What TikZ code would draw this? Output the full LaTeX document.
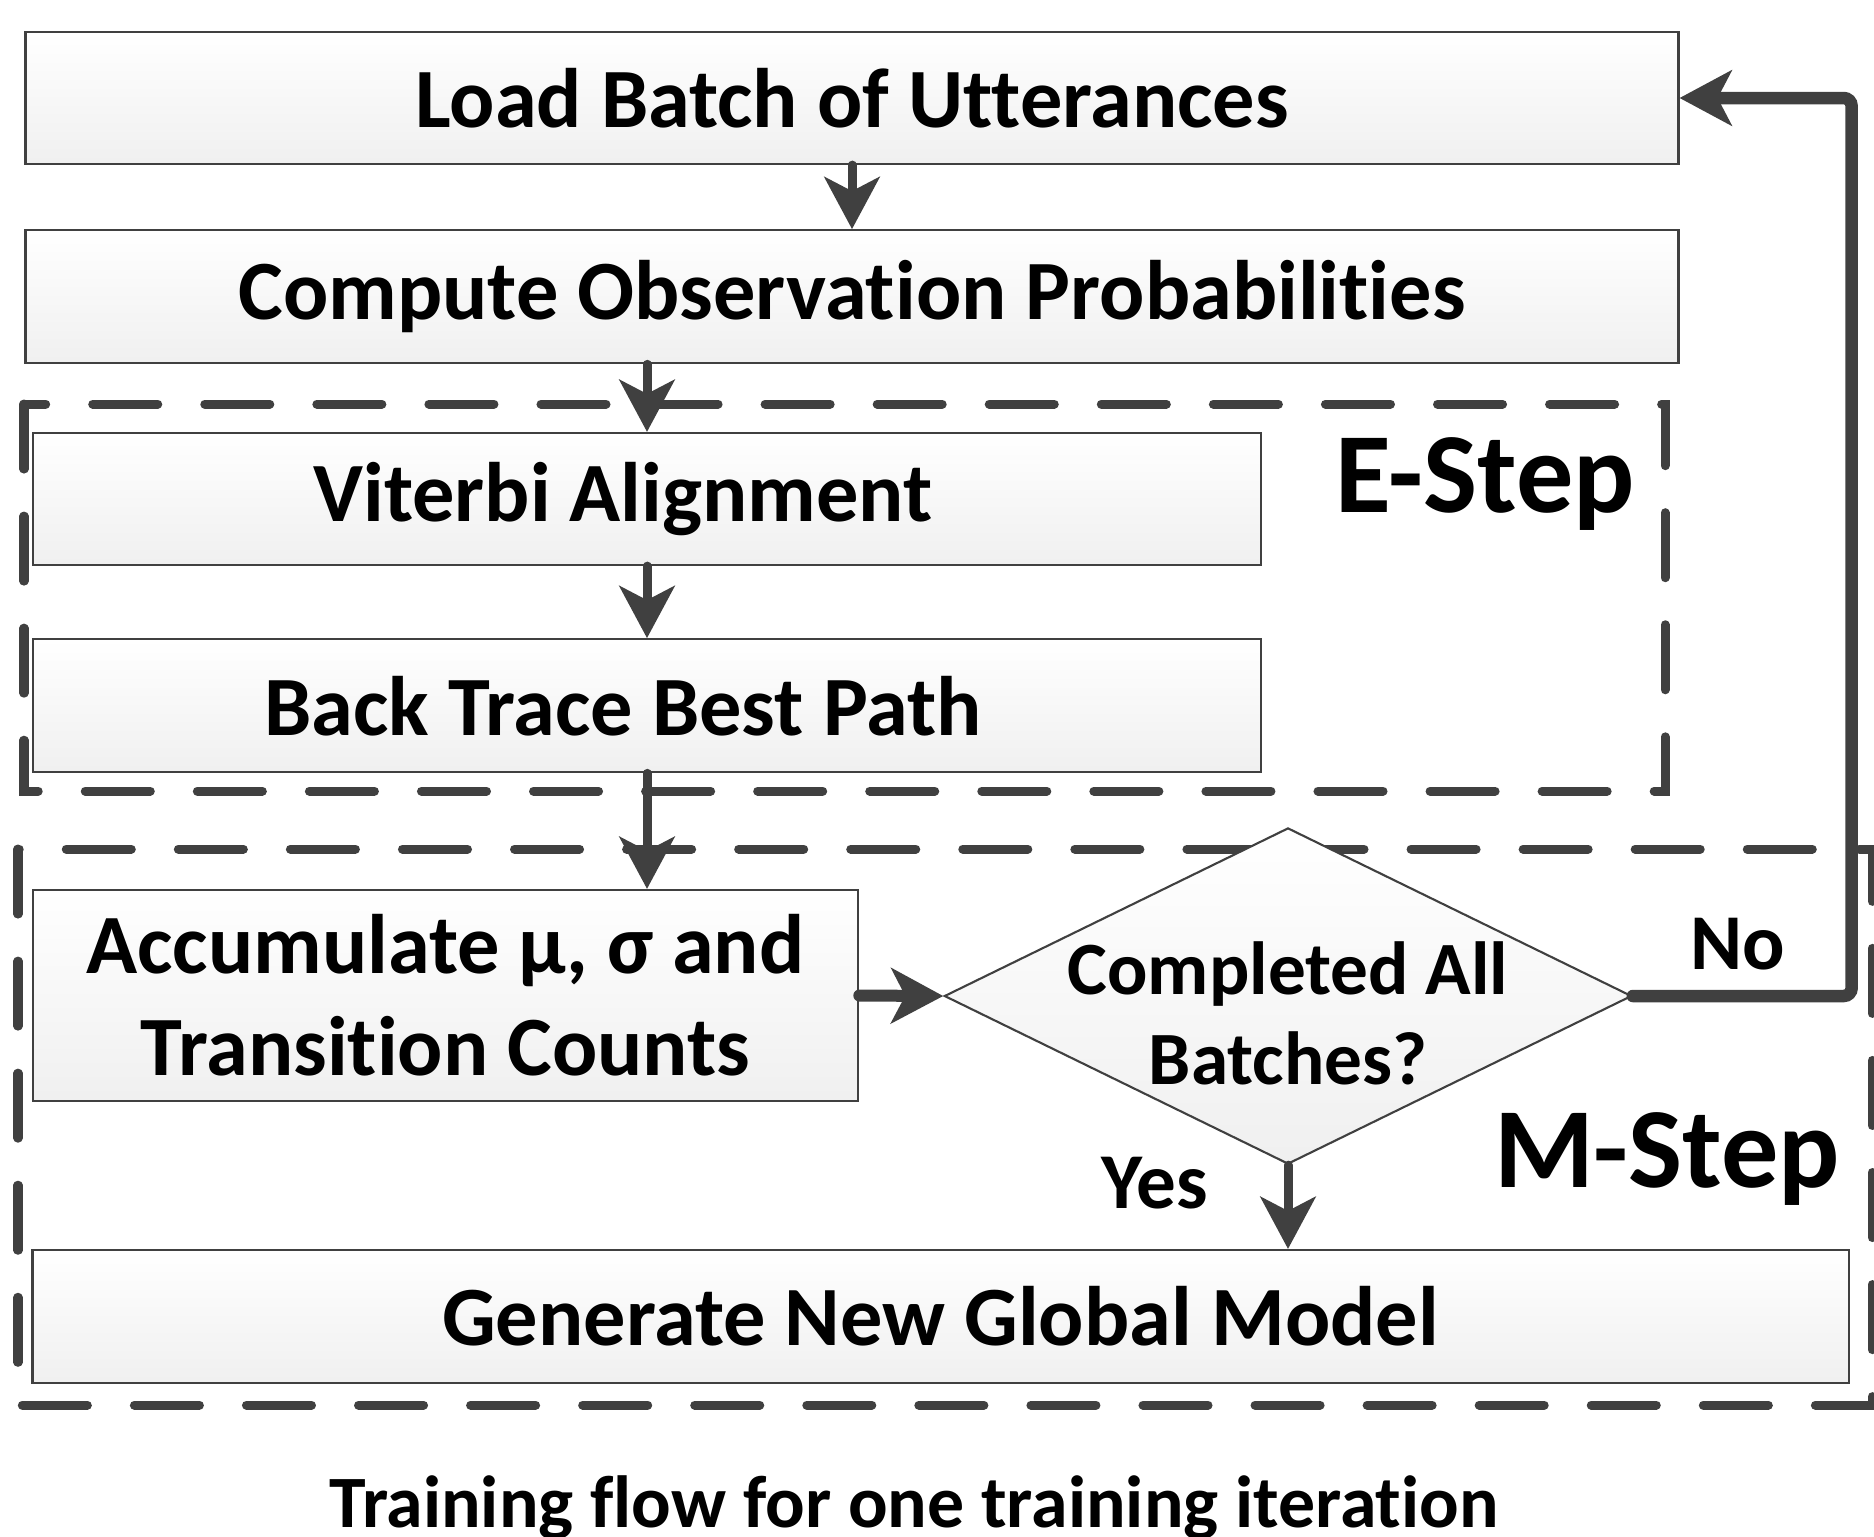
\documentclass[tikz,border=0pt]{standalone}
\usepackage{fontspec}
\setmainfont{Carlito}[Ligatures=NoCommon]
\usetikzlibrary{shapes.geometric, arrows.meta, positioning}
\definecolor{linegray}{HTML}{404040}
\tikzstyle{process} = [rectangle, draw=linegray, line width=0.6pt, top color=white, bottom color=black!6, text centered, inner sep=0pt, font=\fontsize{24}{29}\selectfont\bfseries]
\tikzstyle{decision} = [diamond, draw=linegray, line width=0.6pt, top color=white, bottom color=black!6, inner sep=0pt, minimum width=6.87cm, minimum height=3.36cm]
\tikzstyle{arrow} = [draw=linegray, line width=0.09cm, line cap=round, -{Stealth[length=0.52cm, width=0.55cm, inset=0.14cm]}]
\tikzstyle{group} = [draw=linegray, line width=0.09cm, line cap=round, dash pattern=on 0.65cm off 0.47cm]
\tikzstyle{steplabel} = [font=\fontsize{32.5}{38}\selectfont\bfseries]
\tikzstyle{answer} = [font=\fontsize{22.5}{27}\selectfont\bfseries]

\begin{document}
\begin{tikzpicture}[x=0.01cm, y=-0.01cm]
\useasboundingbox (0,0) rectangle (1874,1536);

% E-step and M-step frames
\draw [group] (24,404) rectangle (1665,791);
\draw [group] (18,849) rectangle (1872,1405);

\node (load) [process, minimum width=16.52cm, minimum height=1.32cm] at (852,98) {Load Batch of Utterances};
\node (compute) [process, minimum width=16.52cm, minimum height=1.33cm, below=0.64cm of load] {Compute Observation Probabilities};
\node (viterbi) [process, minimum width=12.28cm, minimum height=1.32cm] at (647,499) {Viterbi Alignment\hspace*{0.48cm}};
\node (backtrace) [process, minimum width=12.28cm, minimum height=1.33cm, below=0.72cm of viterbi] {Back Trace Best Path\hspace*{0.48cm}};
\node (accum) [process, minimum width=8.25cm, minimum height=2.11cm, align=center, font=\fontsize{24}{29}\selectfont\bfseries] at (445.5,995.5) {Accumulate μ, σ and\\Transition Counts};
\node (check) [decision, label={[align=center, yshift=-0.17cm, font=\fontsize{21.4}{25.6}\selectfont\bfseries]center:Completed All\\Batches?}] at (1288,996) {};
\node (generate) [process, minimum width=18.15cm, minimum height=1.33cm] at (940.5,1316.5) {Generate New Global Model};

\node (estep) [steplabel] at (1485,484) {E-Step};
\node (mstep) [steplabel] at (1667,1159) {M-Step};
\node (no) [answer] at (1738,944) {No};
\node (yes) [answer] at (1155,1183) {Yes};
\node (caption) [anchor=base, font=\fontsize{21}{25}\selectfont\bfseries] at (914,1527) {Training flow for one training iteration};

\draw [arrow] (load) -- (compute);
\draw [arrow] (compute.south -| viterbi.north) -- (viterbi.north);
\draw [arrow] (viterbi) -- (backtrace);
\draw [arrow] (backtrace.south) -- (backtrace.south |- accum.north);
\draw [arrow, line width=0.12cm] (accum.east) -- (check.west);
\draw [arrow] (check.south) -- (check.south |- generate.north);
\draw [arrow, line width=0.125cm, rounded corners=0.08cm] (check.east) -| ([xshift=1.72cm]load.east) -- (load.east);
\end{tikzpicture}
\end{document}
